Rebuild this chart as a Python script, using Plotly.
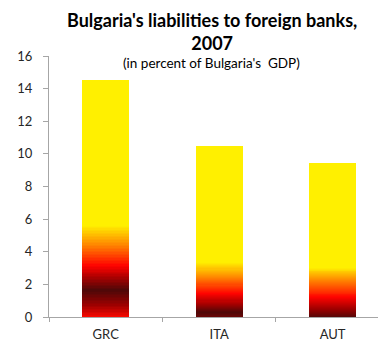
import plotly.graph_objects as go

# Bulgaria's liabilities to foreign banks, 2007 (percent of GDP)
countries = ["GRC", "ITA", "AUT"]
liabilities = [14.55, 10.45, 9.4]
y_ticks = [0, 2, 4, 6, 8, 10, 12, 14, 16]

# "Fire" style vertical gradient for each bar: (height in % of GDP, colour)
FIRE_STOPS = {
    "GRC": [(0.0, "#ff0a00"), (0.74, "#a00000"), (1.66, "#4d0808"), (2.5, "#b00000"),
            (3.19, "#ff0300"), (4.42, "#ff8400"), (5.64, "#fff000")],
    "ITA": [(0.0, "#6a0606"), (0.31, "#4d0808"), (0.8, "#a00000"), (1.47, "#ff0300"),
            (2.45, "#ff8400"), (3.37, "#fff000")],
    "AUT": [(0.0, "#4d0808"), (0.5, "#9a0000"), (1.23, "#ff0300"),
            (2.27, "#ff8400"), (3.07, "#fff000")],
}
N_SLICES = 160


def hex_rgb(h):
    h = h.lstrip("#")
    return tuple(int(h[i:i + 2], 16) for i in (0, 2, 4))


def colour_at(stops, y):
    if y <= stops[0][0]:
        return stops[0][1]
    for (y0, c0), (y1, c1) in zip(stops, stops[1:]):
        if y0 <= y <= y1:
            t = (y - y0) / (y1 - y0)
            a, b = hex_rgb(c0), hex_rgb(c1)
            r = [round(a[i] + (b[i] - a[i]) * t) for i in range(3)]
            return "rgb({},{},{})".format(*r)
    return stops[-1][1]


fig = go.Figure()

# each bar is built from stacked thin slices so its fill can follow the gradient
for k in range(N_SLICES):
    heights = [v / N_SLICES for v in liabilities]
    mids = [(k + 0.5) * v / N_SLICES for v in liabilities]
    cols = [colour_at(FIRE_STOPS[c], m) for c, m in zip(countries, mids)]
    fig.add_trace(go.Bar(
        x=countries, y=heights, width=0.414,
        marker=dict(color=cols, line=dict(width=0)),
        showlegend=False, hoverinfo="skip",
    ))

axis_grey = "#a6a6a6"
font_family = "Lato, 'Open Sans', sans-serif"
tick_font = dict(family=font_family, size=13, color="#262626")

fig.update_layout(
    barmode="stack",
    width=378, height=343,
    margin=dict(l=49, r=0, t=56, b=26),
    paper_bgcolor="white", plot_bgcolor="white",
    xaxis=dict(
        type="category", range=[-0.5, 2.4],
        showline=True, linecolor=axis_grey, linewidth=1,
        ticks="outside", tickson="boundaries", ticklen=4, tickcolor=axis_grey,
        showgrid=False, tickfont=tick_font, ticklabelstandoff=5,
    ),
    yaxis=dict(
        range=[0, 16], tickvals=y_ticks,
        showline=True, linecolor=axis_grey, linewidth=1,
        ticks="outside", ticklen=5, tickcolor=axis_grey,
        showgrid=False, zeroline=False, tickfont=tick_font,
        ticklabelstandoff=8,
    ),
    annotations=[
        dict(text="<b>Bulgaria's liabilities to foreign banks,<br>2007</b>",
             xref="paper", yref="paper", x=0.495, y=1.092,
             xanchor="center", yanchor="middle", showarrow=False,
             font=dict(family=font_family, size=18, color="#000000")),
        dict(text="(in percent of Bulgaria's  GDP)",
             xref="paper", yref="paper", x=0.495, y=0.973,
             xanchor="center", yanchor="middle", showarrow=False,
             font=dict(family=font_family, size=13.5, color="#000000")),
    ],
)

fig.write_html("out.html")
